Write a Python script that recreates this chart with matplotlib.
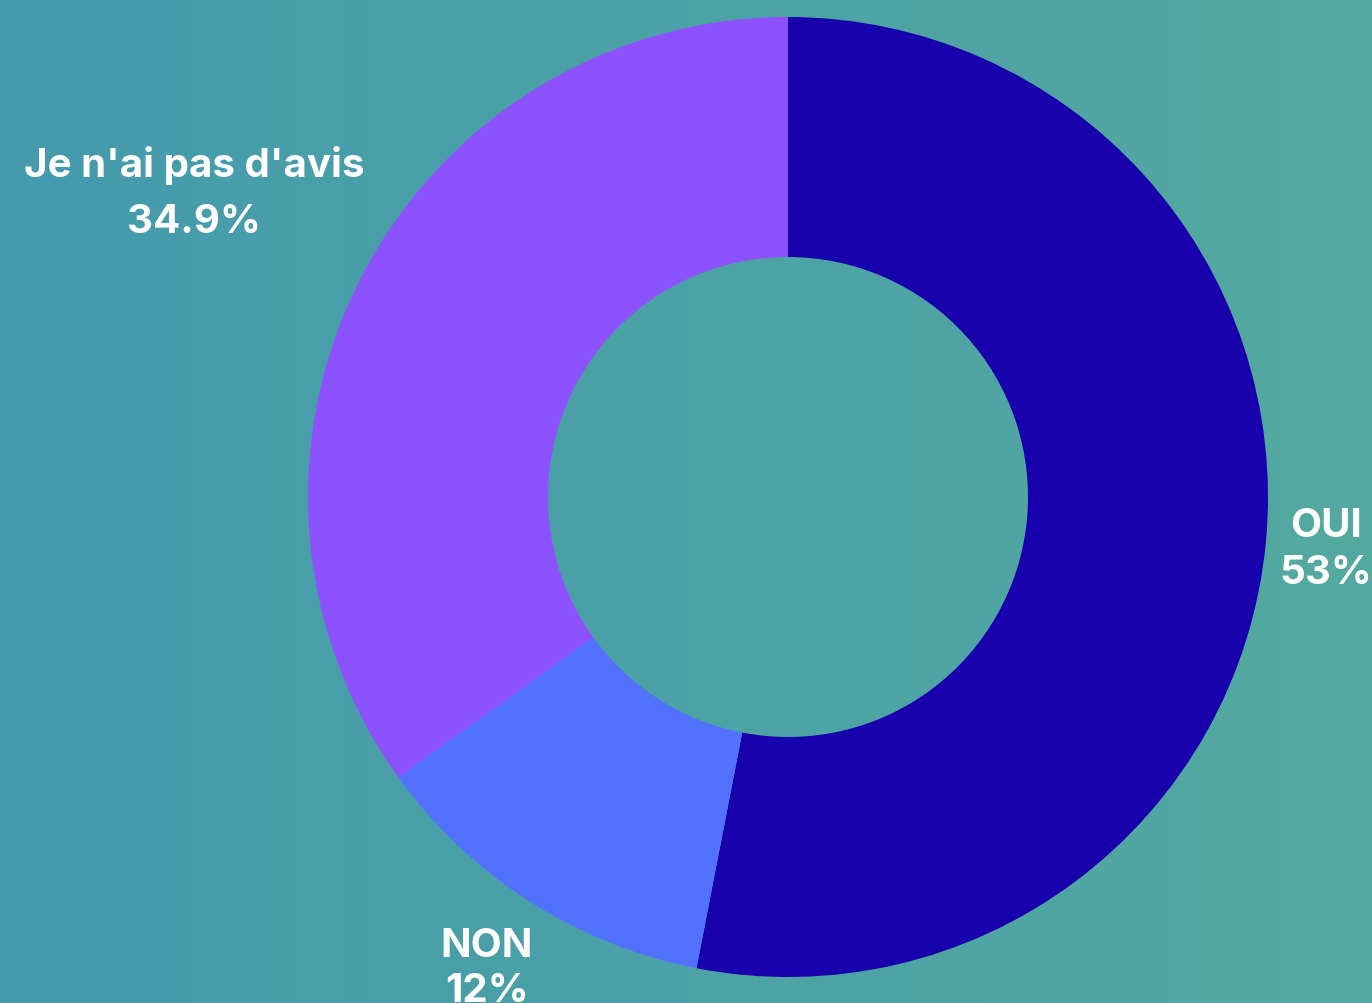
import numpy as np
import matplotlib
matplotlib.use("Agg")
import matplotlib.pyplot as plt
from matplotlib.colors import LinearSegmentedColormap

# Survey answers, clockwise from the top
labels = ["OUI", "NON", "Je n'ai pas d'avis"]
values = [53, 12, 34.9]
pct_labels = ["53%", "12%", "34.9%"]
colors = ["#1800AC", "#5271FF", "#8C52FF"]

W, H = 1372, 1004
fig = plt.figure(figsize=(W / 100, H / 100), dpi=100)

# background: soft left-to-right teal gradient
bg = fig.add_axes([0, 0, 1, 1])
bg.axis("off")
grad = np.linspace(0, 1, 256).reshape(1, -1)
cmap = LinearSegmentedColormap.from_list("bg", ["#459BAC", "#54A9A0"])
bg.imshow(grad, aspect="auto", cmap=cmap, extent=[0, 1, 0, 1])

# donut
cx, cy, r = 788, 498, 480
ax = fig.add_axes([(cx - r) / W, (H - cy - r) / H, 2 * r / W, 2 * r / H])
wedges, _ = ax.pie(values, colors=colors, startangle=90, counterclock=False,
                   radius=1.0, wedgeprops=dict(width=0.5, linewidth=0))
ax.set_xlim(-1, 1)
ax.set_ylim(-1, 1)
ax.axis("off")

# labels pushed out along each slice's middle angle
label_dist = [1.125, 1.165, 1.39]
spacing = [1.35, 1.3, 1.65]
for w, lab, pct, d, ls in zip(wedges, labels, pct_labels, label_dist, spacing):
    ang = np.deg2rad((w.theta1 + w.theta2) / 2)
    ax.text(d * np.cos(ang), d * np.sin(ang), f"{lab}\n{pct}",
            ha="center", va="center", color="white", fontsize=29,
            fontweight="bold", family=["Inter", "DejaVu Sans"],
            linespacing=ls, clip_on=False)

fig.savefig("out.png", dpi=100)
